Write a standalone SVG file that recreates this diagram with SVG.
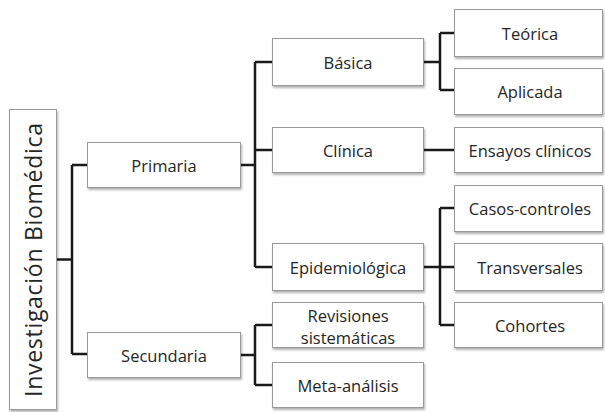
<svg xmlns="http://www.w3.org/2000/svg" width="605" height="412" viewBox="0 0 605 412">
<defs>
<filter id="sh" x="-10%" y="-20%" width="130%" height="150%">
<feDropShadow dx="1" dy="2" stdDeviation="1" flood-color="#000" flood-opacity="0.3"/>
</filter>
<style>
.box{fill:#fff;stroke:#9a9a9a;stroke-width:1;filter:url(#sh)}
.t{font-family:"Open Sans","Liberation Sans",sans-serif;font-size:16.5px;fill:#262626;text-anchor:middle;dominant-baseline:central}
.c{fill:none;stroke:#1a1a1a;stroke-width:2.5}
</style>
</defs>
<rect width="605" height="412" fill="#fff"/>
<g id="connectors">
<path class="c" d="M57 259.5H72M72 165V354M72 165H87M72 354H87"/>
<path class="c" d="M241 165H255M255 62V267M255 62H272M255 150H272M255 267H272"/>
<path class="c" d="M241 355H255M255 325V385M255 325H272M255 385H272"/>
<path class="c" d="M424 62H440M440 33V90M440 33H454M440 90H454"/>
<path class="c" d="M424 150H454"/>
<path class="c" d="M424 267H440M440 208V325M440 208H454M440 267H454M440 325H454"/>
</g>
<g id="root"><rect class="box" x="9.5" y="109.5" width="47" height="300"/>
<text class="t" transform="translate(33 260) rotate(-90)" style="font-size:23px" textLength="274" lengthAdjust="spacing">Investigación Biomédica</text></g>
<g id="primaria"><rect class="box" x="87.5" y="142.5" width="153" height="45"/><text class="t" x="164" y="165">Primaria</text></g>
<g id="secundaria"><rect class="box" x="87.5" y="332.5" width="153" height="45"/><text class="t" x="164" y="355">Secundaria</text></g>
<g id="basica"><rect class="box" x="272.5" y="38.5" width="151" height="47"/><text class="t" x="348" y="62">Básica</text></g>
<g id="clinica"><rect class="box" x="272.5" y="127.5" width="151" height="45"/><text class="t" x="348" y="150">Clínica</text></g>
<g id="epidemiologica"><rect class="box" x="272.5" y="243.5" width="151" height="47"/><text class="t" x="348" y="267">Epidemiológica</text></g>
<g id="revisiones"><rect class="box" x="272.5" y="302.5" width="151" height="45"/><text class="t" x="348" y="315">Revisiones</text><text class="t" x="348" y="337">sistemáticas</text></g>
<g id="meta"><rect class="box" x="272.5" y="362.5" width="151" height="45"/><text class="t" x="348" y="385">Meta-análisis</text></g>
<g id="teorica"><rect class="box" x="454.5" y="9.5" width="148" height="47"/><text class="t" x="530" y="33">Teórica</text></g>
<g id="aplicada"><rect class="box" x="454.5" y="68.5" width="148" height="46"/><text class="t" x="530" y="91">Aplicada</text></g>
<g id="ensayos"><rect class="box" x="454.5" y="127.5" width="148" height="45"/><text class="t" x="530" y="150">Ensayos clínicos</text></g>
<g id="casos"><rect class="box" x="454.5" y="185.5" width="148" height="46"/><text class="t" x="530" y="208">Casos-controles</text></g>
<g id="transversales"><rect class="box" x="454.5" y="243.5" width="148" height="47"/><text class="t" x="530" y="267">Transversales</text></g>
<g id="cohortes"><rect class="box" x="454.5" y="302.5" width="148" height="45"/><text class="t" x="530" y="325">Cohortes</text></g>
</svg>
